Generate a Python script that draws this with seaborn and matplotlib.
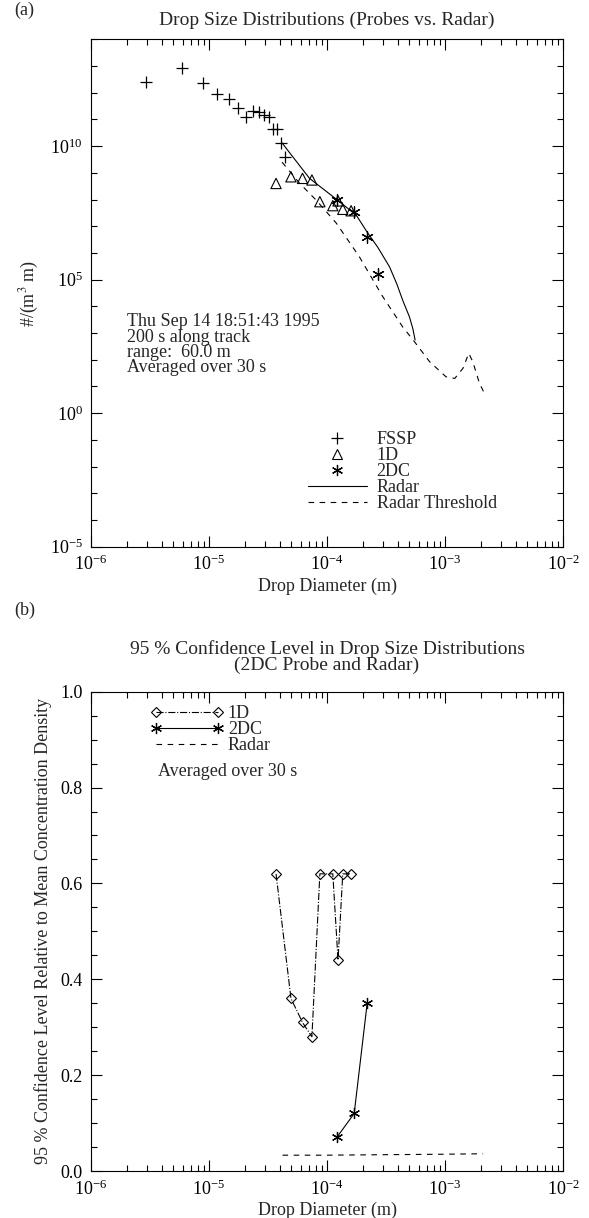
import numpy as np
import pandas as pd
import matplotlib
matplotlib.use("Agg")
import matplotlib.pyplot as plt
import seaborn as sns
from matplotlib.lines import Line2D
from matplotlib.ticker import (FixedLocator, LogFormatterMathtext, NullFormatter,
                               MultipleLocator, FormatStrFormatter, LogLocator)

# ---------------- data ----------------
# panel (a): drop size distributions
fssp_d = [2.94e-6, 5.87e-6, 8.81e-6, 1.16e-5, 1.47e-5, 1.77e-5, 2.04e-5, 2.34e-5,
          2.64e-5, 2.94e-5, 3.24e-5, 3.48e-5, 3.78e-5, 4.09e-5, 4.37e-5]
fssp_n = [2.45e12, 8.1e12, 2.35e12, 8.9e11, 5.6e11, 2.6e11, 1.2e11, 2.0e11,
          1.95e11, 1.5e11, 1.26e11, 4.3e10, 4.3e10, 1.26e10, 4.0e9]

d_1d = [3.70e-5, 4.95e-5, 6.2e-5, 7.45e-5, 8.7e-5, 1.12e-4, 1.24e-4, 1.36e-4, 1.6e-4]
n_1d = [4.0e8, 7.1e8, 6.2e8, 5.4e8, 8.3e7, 5.9e7, 8.9e7, 4.3e7, 3.8e7]

d_2dc = [1.21e-4, 1.70e-4, 2.19e-4, 2.70e-4]
n_2dc = [1.0e8, 3.5e7, 4.0e6, 1.6e5]

radar_d = [4.14e-5, 7.11e-5, 1.21e-4, 1.77e-4, 2.19e-4, 2.70e-4, 3.39e-4, 3.9e-4,
           4.38e-4, 5.0e-4, 5.33e-4, 5.58e-4]
radar_n = [1.35e10, 6.2e8, 1.0e8, 2.6e7, 6.0e6, 1.6e6, 3.0e5, 7.0e4, 1.7e4, 4.0e3,
           1.5e3, 5.5e2]

thr_d = [4.16e-5, 5.85e-5, 8.09e-5, 1.20e-4, 1.88e-4, 2.97e-4, 4.38e-4, 5.52e-4,
         7.40e-4, 1.02e-3, 1.21e-3, 1.42e-3, 1.59e-3, 1.72e-3, 1.96e-3, 2.16e-3]
thr_n = [2.5e9, 4.1e8, 9.5e7, 1.3e7, 7.2e5, 2.3e4, 1.7e3, 4.7e2,
         85, 23, 20, 48, 174, 85, 13, 5.5]

# panel (b): 95 % confidence level
conf_1d = [0.62, 0.36, 0.31, 0.28, 0.62, 0.62, 0.44, 0.62, 0.62]
d_2dc_b = [1.21e-4, 1.70e-4, 2.19e-4]
conf_2dc = [0.07, 0.12, 0.35]
radar_b_d = [4.2e-5, 1.0e-4, 3.0e-4, 1.0e-3, 2.1e-3]
conf_radar = [0.033, 0.033, 0.034, 0.035, 0.036]

info_lines = ["Thu Sep 14 18:51:43 1995", "200 s along track",
              "range:  60.0 m", "Averaged over 30 s"]

# ---------------- style ----------------
sns.set_style("ticks")
plt.rcParams['font.family'] = ['Liberation Serif', 'DejaVu Serif']
plt.rcParams['mathtext.fontset'] = 'stix'
plt.rcParams['axes.linewidth'] = 0.8
FS = 13

W, H = 589, 1218
fig = plt.figure(figsize=(W / 100, H / 100), dpi=100)
fig.patch.set_facecolor('white')

ax1 = fig.add_axes([91 / W, 1 - 546.7 / H, 472 / W, 507.4 / H])
ax2 = fig.add_axes([91 / W, 1 - 1171 / H, 472 / W, 479.3 / H])

star = (6, 2, 0)
lw = 0.8

# ---------------- panel (a) ----------------
ax1.set_xscale('log')
ax1.set_yscale('log')
sns.scatterplot(x=fssp_d, y=fssp_n, marker='+', s=70, color='k', linewidth=0.9, ax=ax1)
sns.scatterplot(x=d_1d, y=n_1d, marker='^', s=55, facecolor='none', edgecolor='k',
                linewidth=0.8, ax=ax1)
sns.lineplot(x=radar_d, y=radar_n, color='k', lw=lw, sort=False, estimator=None, ax=ax1)
sns.lineplot(x=thr_d, y=thr_n, color='k', lw=lw, sort=False, estimator=None, ax=ax1)
ax1.lines[-1].set_dashes([5, 5])
sns.scatterplot(x=d_2dc, y=n_2dc, marker=star, s=70, color='k', linewidth=0.9, ax=ax1)

ax1.set_xlim(1e-6, 1e-2)
ax1.set_ylim(1e-5, 1e14)
ax1.yaxis.set_major_locator(FixedLocator([1e-5, 1e0, 1e5, 1e10]))
ax1.yaxis.set_minor_locator(FixedLocator([10.0 ** k for k in range(-5, 15)]))
ax1.yaxis.set_minor_formatter(NullFormatter())
ax1.yaxis.set_major_formatter(LogFormatterMathtext())
ax1.xaxis.set_major_locator(LogLocator(base=10, numticks=10))
ax1.xaxis.set_minor_locator(LogLocator(base=10, subs=np.arange(2, 10), numticks=20))
ax1.xaxis.set_minor_formatter(NullFormatter())
ax1.xaxis.set_major_formatter(LogFormatterMathtext())
ax1.set_xlabel("Drop Diameter (m)", fontsize=FS, labelpad=2)
ax1.set_ylabel(r"#/(m$^3$ m)", fontsize=FS, labelpad=6)
ax1.set_title("Drop Size Distributions (Probes vs. Radar)", fontsize=FS + 1, pad=10)

ax1.text(0.0756, 0.398, "\n".join(info_lines), transform=ax1.transAxes,
         fontsize=FS, va='center', ha='left', linespacing=0.88)

h_a = [Line2D([], [], ls='none', marker='+', ms=8, mew=0.9, color='k'),
       Line2D([], [], ls='none', marker='^', ms=7, mfc='none', mec='k', mew=0.8),
       Line2D([], [], ls='none', marker=star, ms=8, mew=0.9, color='k'),
       Line2D([], [], ls='-', lw=lw, color='k'),
       Line2D([], [], ls=(0, (5, 5)), lw=lw, color='k')]
ax1.legend(h_a, ["FSSP", "1D", "2DC", "Radar", "Radar Threshold"], loc='upper left',
           bbox_to_anchor=(0.46, 0.228), frameon=False, fontsize=FS, borderpad=0,
           borderaxespad=0, handlelength=3.24, handletextpad=0.56, labelspacing=-0.05,
           numpoints=1)

# ---------------- panel (b) ----------------
ax2.set_xscale('log')
sns.lineplot(x=d_1d, y=conf_1d, color='k', lw=lw, ls='-.', marker='D', ms=5,
             mfc='none', mec='k', mew=0.8, sort=False, estimator=None, ax=ax2)
sns.lineplot(x=d_2dc_b, y=conf_2dc, color='k', lw=lw, marker=star, ms=8, mew=0.9,
             mec='k', mfc='k', sort=False, estimator=None, ax=ax2)
sns.lineplot(x=radar_b_d, y=conf_radar, color='k', lw=lw, sort=False,
             estimator=None, ax=ax2)
ax2.lines[-1].set_dashes([5, 5])

ax2.set_xlim(1e-6, 1e-2)
ax2.set_ylim(0, 1)
ax2.yaxis.set_major_locator(MultipleLocator(0.2))
ax2.yaxis.set_minor_locator(MultipleLocator(0.05))
ax2.yaxis.set_major_formatter(FormatStrFormatter('%.1f'))
ax2.xaxis.set_major_locator(LogLocator(base=10, numticks=10))
ax2.xaxis.set_minor_locator(LogLocator(base=10, subs=np.arange(2, 10), numticks=20))
ax2.xaxis.set_minor_formatter(NullFormatter())
ax2.xaxis.set_major_formatter(LogFormatterMathtext())
ax2.set_xlabel("Drop Diameter (m)", fontsize=FS, labelpad=2)
ax2.set_ylabel("95 % Confidence Level Relative to Mean Concentration Density",
               fontsize=FS, labelpad=6)
ax2.set_title("95 % Confidence Level in Drop Size Distributions\n(2DC Probe and Radar)",
              fontsize=FS + 1, pad=16, linespacing=0.85)

h_b = [Line2D([], [], ls='-.', lw=lw, color='k', marker='D', ms=5, mfc='none', mec='k', mew=0.8),
       Line2D([], [], ls='-', lw=lw, color='k', marker=star, ms=8, mew=0.9, mec='k'),
       Line2D([], [], ls=(0, (5, 5)), lw=lw, color='k')]
ax2.legend(h_b, ["1D", "2DC", "Radar"], loc='upper left', bbox_to_anchor=(0.127, 0.972),
           frameon=False, fontsize=FS, borderpad=0, borderaxespad=0, handlelength=4.0,
           handletextpad=0.26, labelspacing=-0.05, numpoints=2)
ax2.text(0.1426, 0.833, "Averaged over 30 s", transform=ax2.transAxes, fontsize=FS,
         va='center', ha='left')

for ax in (ax1, ax2):
    ax.tick_params(which='both', direction='in', top=True, right=True, colors='k',
                   labelsize=FS, width=0.8)
    ax.tick_params(which='major', length=8, pad=6)
    ax.tick_params(which='minor', length=4.5)
    for s in ax.spines.values():
        s.set_visible(True)
        s.set_color('k')

fig.text(14 / W, 1 - 10 / H, "(a)", fontsize=FS, va='center', ha='left')
fig.text(14 / W, 1 - 610 / H, "(b)", fontsize=FS, va='center', ha='left')

fig.savefig("out.png", dpi=100, facecolor='white')
